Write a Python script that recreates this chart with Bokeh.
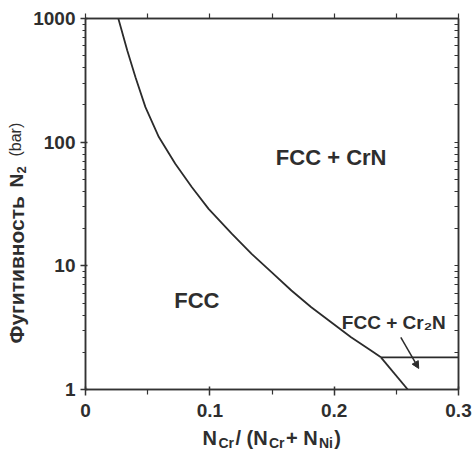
import numpy as np
from bokeh.plotting import figure
from bokeh.layouts import row, column
from bokeh.models import (LinearAxis, Label, Arrow, NormalHead, Range1d, FixedTicker)
from bokeh.core.properties import value
from bokeh.embed import file_html
from bokeh.resources import INLINE

# ---- data ----
# FCC / FCC+CrN boundary
bx = [0.0264, 0.0336, 0.0402, 0.0482, 0.0590, 0.0722, 0.0856, 0.0990, 0.1176,
      0.1336, 0.1496, 0.1656, 0.1816, 0.1976, 0.2136, 0.2296, 0.2376]
by = [1000, 551, 335, 192, 110, 66.8, 43.2, 28.9, 18.2,
      12.5, 8.9, 6.32, 4.63, 3.50, 2.65, 2.07, 1.82]
# FCC / FCC+Cr2N boundary
lx = [0.2376, 0.2592]
ly = [1.82, 1.0]
# FCC+CrN / FCC+Cr2N boundary
hx = [0.2376, 0.30]
hy = [1.82, 1.82]
# arrow pointing into the Cr2N field
arrow_start = (0.2536, 2.64)
arrow_end = (0.268, 1.48)

x_ticks = [0, 0.1, 0.2, 0.3]
x_minor = [0.05, 0.15, 0.25]
x_tick_labels = ["0", "0.1", "0.2", "0.3"]
y_ticks = [1, 10, 100, 1000]
y_tick_labels = ["1", "10", "100", "1000"]
y_minor = [m * d for d in (1, 10, 100) for m in range(2, 10)]

FONT = "Liberation Sans"
TXT = "#2e2e2e"
W, H = 475, 453
YW = 30          # width of the strip holding the y title
XH = 30          # height of the strip holding the x title
FL, FR, FT, FB = 83, 458, 18, 389   # frame edges on the page

p = figure(width=W - YW, height=H - XH, x_axis_type="linear", y_axis_type="log",
           x_range=Range1d(0, 0.3), y_range=Range1d(1, 1000),
           output_backend="svg", toolbar_location=None,
           min_border_left=FL - YW, min_border_right=W - FR,
           min_border_top=FT, min_border_bottom=H - XH - FB)
p.background_fill_color = "white"
p.border_fill_color = "white"
p.outline_line_color = "#333333"
p.outline_line_width = 1.5
p.grid.visible = False

# bottom axis
xa = p.xaxis[0]
xa.ticker = FixedTicker(ticks=x_ticks, minor_ticks=x_minor)
xa.major_label_overrides = {t: l for t, l in zip(x_ticks, x_tick_labels)}
# left axis
ya = p.yaxis[0]
ya.ticker = FixedTicker(ticks=y_ticks, minor_ticks=y_minor)
ya.major_label_overrides = {t: l for t, l in zip(y_ticks, y_tick_labels)}

for ax in (xa, ya):
    ax.axis_line_color = "#333333"
    ax.axis_line_width = 1.5
    ax.major_tick_line_color = "#333333"
    ax.major_tick_line_width = 1.5
    ax.minor_tick_line_color = "#333333"
    ax.minor_tick_line_width = 1.2
    ax.major_label_text_font = FONT
    ax.major_label_text_font_style = "bold"
    ax.major_label_text_font_size = "19px"
    ax.major_label_text_color = TXT
xa.major_tick_out = 6
xa.major_tick_in = 3
xa.minor_tick_out = 5
xa.minor_tick_in = 0
xa.major_label_standoff = 8
ya.major_tick_out = 5
ya.major_tick_in = 2
ya.minor_tick_out = 3
ya.minor_tick_in = 0
ya.major_label_standoff = 5

# top and right frame axes: ticks only (all given as minor ticks, so no labels)
top = LinearAxis(ticker=FixedTicker(ticks=[], minor_ticks=sorted(x_ticks + x_minor)))
right = LinearAxis(ticker=FixedTicker(ticks=[], minor_ticks=sorted(y_ticks + y_minor)))
for ax in (top, right):
    ax.axis_line_color = "#333333"
    ax.axis_line_width = 1.5
    ax.minor_tick_line_color = "#333333"
    ax.minor_tick_line_width = 1.2
    ax.major_label_standoff = 0
top.minor_tick_out = 5
top.minor_tick_in = 0
right.minor_tick_out = 0
right.minor_tick_in = 4
p.add_layout(top, "above")
p.add_layout(right, "right")

# phase boundaries
LC = "#2b2b2b"
p.line(bx, by, line_color=LC, line_width=1.8)
p.line(lx, ly, line_color=LC, line_width=1.8)
p.line(hx, hy, line_color=LC, line_width=1.8)
p.add_layout(Arrow(x_start=arrow_start[0], y_start=arrow_start[1],
                   x_end=arrow_end[0], y_end=arrow_end[1],
                   line_color=LC, line_width=1.5,
                   end=NormalHead(size=7, fill_color=LC, line_color=LC)))

# field labels
def lab(x, y, text, size):
    p.add_layout(Label(x=x, y=y, text=text, text_font=FONT, text_font_style="bold",
                       text_font_size=size, text_color=TXT, text_align="center",
                       text_baseline="middle"))

lab(0.1976, 75, "FCC + CrN", "22px")
lab(0.0896, 5.25, "FCC", "22px")
lab(0.248, 3.48, "FCC + Cr\u2082N", "19px")

# ---- strips carrying the axis titles (their ranges are page pixels) ----
def strip(w, h, xr, yr, **borders):
    f = figure(width=w, height=h, x_range=Range1d(*xr), y_range=Range1d(*yr),
               x_axis_type=None, y_axis_type=None, output_backend="svg",
               toolbar_location=None, **borders)
    f.outline_line_color = None
    f.grid.visible = False
    f.background_fill_color = "white"
    f.border_fill_color = "white"
    return f

def put(f, px, py, text, size, style="bold", angle=0.0):
    f.text(x=[px], y=[py], text=[text], text_font=value(FONT),
           text_font_style=value(style), text_font_size=value(size),
           text_color=TXT, text_align="left", text_baseline="middle", angle=angle)

# x title: N_Cr/ (N_Cr+ N_Ni) -- strip frame aligned with the main frame
xs = strip(W - YW, XH, (FL, FR), (H, H - XH),
           min_border_left=FL - YW, min_border_right=W - FR,
           min_border_top=0, min_border_bottom=0)
em = {"N": 722, "C": 722, "r": 389, "/": 278, " ": 278, "(": 333, ")": 333, "+": 584, "i": 278}
parts = [("N", 20, 0), ("Cr", 14, 5), ("/ (N", 20, 0), ("Cr", 14, 5),
         ("+ N", 20, 0), ("Ni", 14, 5), (")", 20, 0)]
wid = [sum(em[c] for c in t) / 1000 * s + 1.5 for t, s, _ in parts]
cx = 271 - sum(wid) / 2
for (t, s, dy), w in zip(parts, wid):
    put(xs, cx, 437 + dy, t, f"{s}px")
    cx += w

# y title rotated (reads bottom to top) -- strip frame aligned vertically with main frame
ys = strip(YW, H, (0, YW), (FB, FT),
           min_border_left=0, min_border_right=0,
           min_border_top=FT, min_border_bottom=H - FB)
ang = np.pi / 2
yx = 16
put(ys, yx, 343, "Фугитивность", "21px", angle=ang)
put(ys, yx, 187, "N", "19px", angle=ang)
put(ys, yx + 5, 173, "2", "13px", angle=ang)
put(ys, yx - 1, 156, "(bar)", "16px", style="normal", angle=ang)

layout = row(ys, column(p, xs, spacing=0), spacing=0)
open("out.html", "w").write(file_html(layout, INLINE))
